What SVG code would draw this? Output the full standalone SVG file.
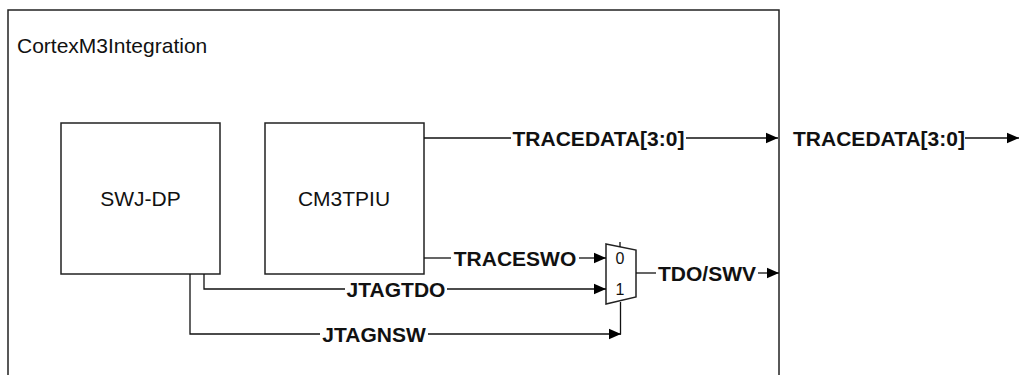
<svg xmlns="http://www.w3.org/2000/svg" width="1024" height="375" viewBox="0 0 1024 375">
<defs>
<marker id="arr" markerUnits="userSpaceOnUse" markerWidth="13" markerHeight="12" refX="12.5" refY="6" orient="auto">
<path d="M0,0.5 L12.5,6 L0,11.5 z" fill="#000"/>
</marker>
<style>
.box{fill:#fff;stroke:#222;stroke-width:1.5}
.ln{fill:none;stroke:#111;stroke-width:1.3}
.t{font-family:"Liberation Sans",Arial,sans-serif;font-size:21px;fill:#111}
.b{font-family:"Liberation Sans",Arial,sans-serif;font-size:21px;font-weight:bold;fill:#111;text-anchor:middle}
.s{font-family:"Liberation Sans",Arial,sans-serif;font-size:16px;fill:#111;text-anchor:middle}
</style>
</defs>
<rect width="1024" height="375" fill="#fff"/>
<g id="CortexM3Integration">
<rect class="box" x="8" y="10" width="771" height="400"/>
<text class="t" x="17" y="53">CortexM3Integration</text>
</g>
<g id="SWJ-DP">
<rect class="box" x="61" y="123" width="159" height="151"/>
<text class="t" x="140.5" y="206" text-anchor="middle">SWJ-DP</text>
</g>
<g id="CM3TPIU">
<rect class="box" x="265" y="123" width="159" height="151"/>
<text class="t" x="344" y="206" text-anchor="middle">CM3TPIU</text>
</g>
<g id="mux">
<path class="box" d="M606,244 L636,250 L636,297 L606,304 z"/>
<line class="ln" x1="620" y1="242" x2="620" y2="247"/>
<text class="s" x="620" y="264">0</text>
<text class="s" x="620" y="295">1</text>
</g>
<g id="connectors">
<line class="ln" x1="424" y1="138" x2="511" y2="138"/>
<line class="ln" x1="686" y1="138" x2="778" y2="138" marker-end="url(#arr)"/>
<line class="ln" x1="965" y1="138" x2="1019" y2="138" marker-end="url(#arr)"/>
<line class="ln" x1="424" y1="258" x2="451" y2="258"/>
<line class="ln" x1="579" y1="258" x2="606" y2="258" marker-end="url(#arr)"/>
<polyline class="ln" points="204,274 204,289 345,289"/>
<line class="ln" x1="447" y1="289" x2="606" y2="289" marker-end="url(#arr)"/>
<polyline class="ln" points="190,274 190,334 320,334"/>
<line class="ln" x1="428" y1="334" x2="621" y2="334" marker-end="url(#arr)"/>
<line class="ln" x1="620.5" y1="302" x2="620.5" y2="334.5"/>
<line class="ln" x1="636" y1="273" x2="656" y2="273"/>
<line class="ln" x1="758" y1="273" x2="779" y2="273" marker-end="url(#arr)"/>
</g>
<g id="labels">
<text class="b" x="598.5" y="145.5">TRACEDATA[3:0]</text>
<text class="b" x="879" y="145.5">TRACEDATA[3:0]</text>
<text class="b" x="515" y="265.5">TRACESWO</text>
<text class="b" x="396" y="296.5">JTAGTDO</text>
<text class="b" x="374" y="341.5">JTAGNSW</text>
<text class="b" x="707" y="280.5">TDO/SWV</text>
</g>
</svg>
